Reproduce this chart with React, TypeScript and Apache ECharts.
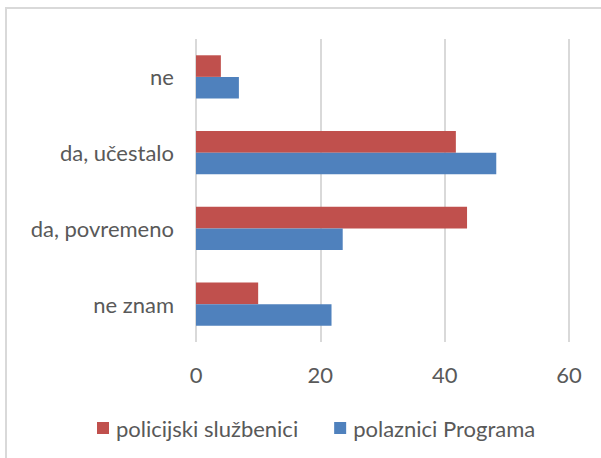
import React, { useEffect, useRef } from "react";
import * as echarts from "echarts";

const categories = ["ne znam", "da, povremeno", "da, učestalo", "ne"];
const seriesNames = ["policijski službenici", "polaznici Programa"];
const policijski = [10, 43.6, 41.8, 4];
const polaznici = [21.8, 23.6, 48.3, 6.9];
const xTicks = [0, 20, 40, 60];

const FONT = "Lato";
const TEXT = "#595959";
const FS = 22;

export default function App() {
  const ref = useRef<HTMLDivElement>(null);
  useEffect(() => {
    if (!ref.current) return;
    const chart = echarts.init(ref.current, undefined, { renderer: "svg" });
    chart.setOption({
      animation: false,
      backgroundColor: "#ffffff",
      textStyle: { fontFamily: FONT },
      graphic: [
        {
          type: "rect",
          shape: { x: 6, y: 8, width: 700, height: 600 },
          style: { fill: "none", stroke: "#d9d9d9", lineWidth: 2 },
          silent: true,
        },
      ],
      legend: {
        data: seriesNames,
        left: 92,
        top: 412,
        itemWidth: 12,
        itemHeight: 12,
        itemGap: 36,
        icon: "rect",
        textStyle: { color: TEXT, fontSize: FS, fontFamily: FONT, padding: [0, 0, 0, 2] },
      },
      grid: { left: 196, right: 32, top: 39, bottom: 116, containLabel: false },
      xAxis: {
        type: "value",
        min: xTicks[0],
        max: xTicks[xTicks.length - 1],
        interval: 20,
        axisLine: { show: false },
        axisTick: { show: false },
        axisLabel: { color: TEXT, fontSize: FS, fontFamily: FONT, margin: 21 },
        splitLine: { lineStyle: { color: "#d9d9d9", width: 2 } },
      },
      yAxis: {
        type: "category",
        data: categories,
        axisLine: { show: false },
        axisTick: { show: false },
        axisLabel: { color: TEXT, fontSize: FS, fontFamily: FONT, margin: 22 },
      },
      series: [
        {
          name: seriesNames[0],
          type: "bar",
          data: policijski,
          itemStyle: { color: "#C0504D" },
          barGap: "0%",
          barCategoryGap: "43%",
        },
        {
          name: seriesNames[1],
          type: "bar",
          data: polaznici,
          itemStyle: { color: "#4F81BD" },
          barGap: "0%",
          barCategoryGap: "43%",
        },
      ],
    });
    return () => chart.dispose();
  }, []);
  return <div ref={ref} style={{ width: 601, height: 458, position: "absolute", left: 0, top: 0 }} />;
}
